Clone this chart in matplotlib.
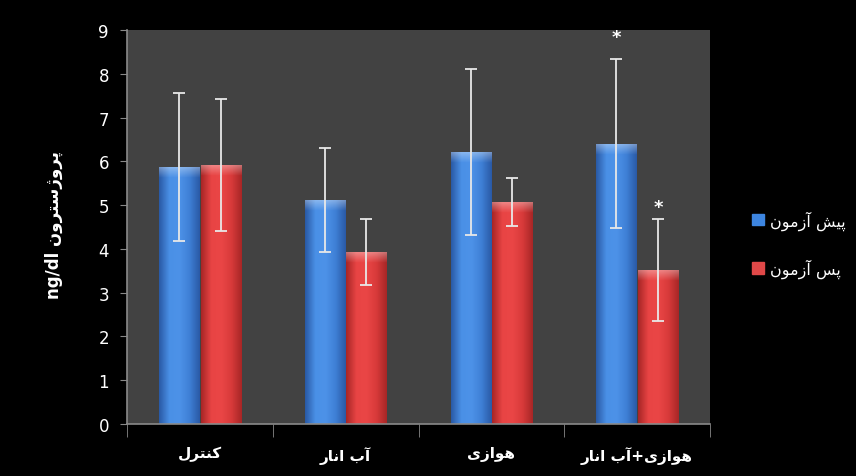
import numpy as np
import matplotlib
matplotlib.use("Agg")
import matplotlib.pyplot as plt
from matplotlib.colors import LinearSegmentedColormap
from matplotlib.patches import Patch

# ---------------- data ----------------
categories = ["کنترل", "آب انار", "هوازی", "هوازی+آب انار"]
series_names = ["پیش آزمون", "پس آزمون"]
pre_means = [5.87, 5.12, 6.21, 6.40]
pre_sd = [1.68, 1.19, 1.90, 1.93]
post_means = [5.92, 3.93, 5.07, 3.52]
post_sd = [1.51, 0.75, 0.55, 1.16]
pre_sig_y = [None, None, None, 8.85]
post_sig_y = [None, None, None, 4.95]
y_ticks = [0, 1, 2, 3, 4, 5, 6, 7, 8, 9]
y_label_fa = "پروژسترون"
y_label_unit = "ng/dl"

# ------------- minimal Persian shaping (matplotlib has no bidi/shaping) -------------
FORMS = {
    '\u0627': ('\uFE8D', '\uFE8E', None, None),
    '\u0622': ('\uFE81', '\uFE82', None, None),
    '\u0628': ('\uFE8F', '\uFE90', '\uFE91', '\uFE92'),
    '\u067E': ('\uFB56', '\uFB57', '\uFB58', '\uFB59'),
    '\u062A': ('\uFE95', '\uFE96', '\uFE97', '\uFE98'),
    '\u0631': ('\uFEAD', '\uFEAE', None, None),
    '\u0632': ('\uFEAF', '\uFEB0', None, None),
    '\u0698': ('\uFB8A', '\uFB8B', None, None),
    '\u0633': ('\uFEB1', '\uFEB2', '\uFEB3', '\uFEB4'),
    '\u0634': ('\uFEB5', '\uFEB6', '\uFEB7', '\uFEB8'),
    '\u06A9': ('\uFB8E', '\uFB8F', '\uFB90', '\uFB91'),
    '\u0644': ('\uFEDD', '\uFEDE', '\uFEDF', '\uFEE0'),
    '\u0645': ('\uFEE1', '\uFEE2', '\uFEE3', '\uFEE4'),
    '\u0646': ('\uFEE5', '\uFEE6', '\uFEE7', '\uFEE8'),
    '\u0647': ('\uFEE9', '\uFEEA', '\uFEEB', '\uFEEC'),
    '\u0648': ('\uFEED', '\uFEEE', None, None),
    '\u06CC': ('\uFBFC', '\uFBFD', '\uFBFE', '\uFBFF'),
}


def shape_fa(s):
    out = []
    n = len(s)
    for i, ch in enumerate(s):
        if ch not in FORMS:
            out.append(ch)
            continue
        f = FORMS[ch]
        prev = s[i - 1] if i > 0 else None
        nxt = s[i + 1] if i < n - 1 else None
        join_prev = prev in FORMS and FORMS[prev][2] is not None
        join_next = (f[2] is not None) and (nxt in FORMS)
        if join_prev and join_next:
            out.append(f[3])
        elif join_prev:
            out.append(f[1])
        elif join_next:
            out.append(f[2])
        else:
            out.append(f[0])
    return "".join(out)[::-1]


plt.rcParams['font.family'] = ['DejaVu Sans']

W, H = 856, 477
fig = plt.figure(figsize=(W / 100, H / 100), dpi=100, facecolor='black')
ax = fig.add_axes([127 / W, 1 - 425 / H, (710 - 127) / W, (425 - 31) / H])
ax.set_facecolor('#424242')

x = np.arange(len(categories))
bw = 0.275
gap = 0.01

bars_pre = ax.bar(x - bw / 2 - gap / 2, pre_means, bw, color='#3d7fd6', zorder=2)
bars_post = ax.bar(x + bw / 2 + gap / 2, post_means, bw, color='#d93636', zorder=2)

cmap_blue = LinearSegmentedColormap.from_list('b', ['#2a5aa6', '#4a90e6', '#4d92e8', '#3f80d6', '#2a5aa6'])
cmap_red = LinearSegmentedColormap.from_list('r', ['#a82626', '#e84444', '#ea4646', '#d83a3a', '#a82626'])
grad = np.linspace(0, 1, 64).reshape(1, -1)
for bars, cm in ((bars_pre, cmap_blue), (bars_post, cmap_red)):
    for b in bars:
        x0, w, h = b.get_x(), b.get_width(), b.get_height()
        im = ax.imshow(grad, cmap=cm, aspect='auto', extent=(x0, x0 + w, 0, h), zorder=2.1)
        im.set_clip_path(b)
        hl = ax.imshow(np.linspace(1, 0, 32).reshape(-1, 1), cmap=LinearSegmentedColormap.from_list(
            'h', [(1, 1, 1, 0), (1, 1, 1, 0.35)]), aspect='auto',
            extent=(x0, x0 + w, h - 0.25, h), zorder=2.2)
        hl.set_clip_path(b)

ax.errorbar([b.get_x() + b.get_width() / 2 for b in bars_pre], pre_means, yerr=pre_sd,
            fmt='none', ecolor='#e8e8e8', elinewidth=1.3, capsize=4, capthick=1.3, zorder=3)
ax.errorbar([b.get_x() + b.get_width() / 2 for b in bars_post], post_means, yerr=post_sd,
            fmt='none', ecolor='#e8e8e8', elinewidth=1.3, capsize=4, capthick=1.3, zorder=3)

for bars, sig_y in ((bars_pre, pre_sig_y), (bars_post, post_sig_y)):
    for b, sy in zip(bars, sig_y):
        if sy is not None:
            ax.text(b.get_x() + b.get_width() / 2, sy, "*", color='white',
                    ha='center', va='center', fontsize=13, fontweight='bold', zorder=4)

ax.set_xlim(-0.5, len(categories) - 0.5)
ax.set_ylim(0, 9)
ax.set_yticks(y_ticks)
ax.set_yticklabels([str(t) for t in y_ticks], color='white', fontsize=12)
ax.tick_params(axis='y', length=5, color='#888888', pad=8, direction='out')

ax.set_xticks(x)
ax.set_xticklabels([shape_fa(c) for c in categories], color='white', fontsize=11, fontweight='bold')
ax.tick_params(axis='x', which='major', length=0, pad=16)
ax.set_xticks(np.arange(len(categories) + 1) - 0.5, minor=True)
ax.tick_params(axis='x', which='minor', length=9, color='#888888', direction='out')

for side in ('top', 'right'):
    ax.spines[side].set_visible(False)
for side in ('left', 'bottom'):
    ax.spines[side].set_color('#8a8a8a')
    ax.spines[side].set_linewidth(1.2)

ax.set_ylabel(y_label_unit + " " + shape_fa(y_label_fa), color='white', fontsize=12, fontweight='bold')
ax.yaxis.set_label_coords((63 - 127) / (710 - 127), 0.5 + 3 / 394)

handles = [Patch(facecolor='#3d85e0', edgecolor='#3d85e0'), Patch(facecolor='#e04848', edgecolor='#e04848')]
leg = fig.legend(handles, [shape_fa(s) for s in series_names], loc='center left',
                 bbox_to_anchor=(738 / W, 1 - 245 / H), frameon=False, fontsize=11.5,
                 handlelength=0.7, handleheight=0.7, handletextpad=0.4, labelspacing=1.8)
for t in leg.get_texts():
    t.set_color('white')

fig.savefig('out.png', dpi=100, facecolor='black')
